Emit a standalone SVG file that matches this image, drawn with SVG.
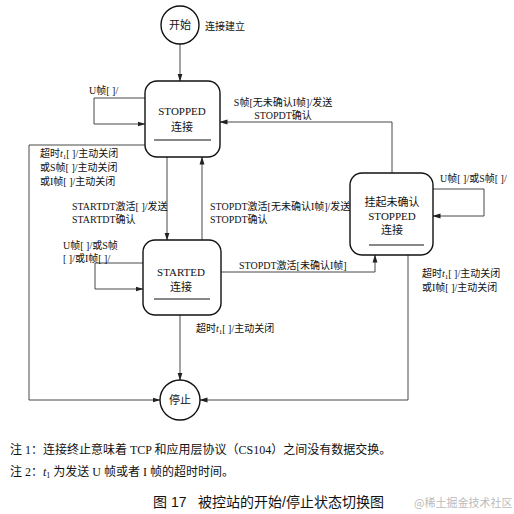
<svg xmlns="http://www.w3.org/2000/svg" width="514" height="514" viewBox="0 0 514 514">
<defs>
<marker id="ah" markerWidth="8" markerHeight="6" refX="7.5" refY="3" orient="auto" markerUnits="userSpaceOnUse">
<path d="M0,0.5 L8,3 L0,5.5 Z" fill="#222"/>
</marker>
<style>
.st{fill:#fff;stroke:#111;stroke-width:1.4}
.ul{stroke:#111;stroke-width:1}
.c{fill:none;stroke:#333;stroke-width:0.9;marker-end:url(#ah)}
text{font-family:"Liberation Serif","Noto Sans CJK SC",serif;fill:#111}
.l{font-size:10px}
.n{font-size:11px}
.m{text-anchor:middle}
.note{font-size:12px}
.title{font-family:"Liberation Sans","Noto Sans CJK SC",sans-serif;font-size:14px}
.wm{font-family:"Noto Sans CJK SC",sans-serif;font-size:11px;fill:#bbb}
</style>
</defs>
<rect width="514" height="514" fill="#fff"/>
<g id="connectors">
<path class="c" d="M180,44 V81"/>
<path class="c" d="M145,98 H94 V124 H145"/>
<path class="c" d="M392,173 V122 H220"/>
<path class="c" d="M145,145 H29 V400 H160"/>
<path class="c" d="M167,157 V240"/>
<path class="c" d="M202,240 V157"/>
<path class="c" d="M143,263 H95 V289 H143"/>
<path class="c" d="M221,272 H375 V255"/>
<path class="c" d="M433,189 H484 V216 H433"/>
<path class="c" d="M408,255 V400 H200"/>
<path class="c" d="M180,315 V380"/>
</g>
<g id="labels">
<text class="l" x="205" y="30">连接建立</text>
<text class="l" x="89" y="94">U帧[ ]/</text>
<text class="l m" x="283" y="106">S帧[无未确认I帧]/发送</text>
<text class="l m" x="283" y="119">STOPDT确认</text>
<text class="l" x="40" y="157">超时<tspan font-style="italic">t</tspan><tspan font-size="7" dy="2">1</tspan><tspan dy="-2">[ ]/主动关闭</tspan></text>
<text class="l" x="40" y="171">或S帧[ ]/主动关闭</text>
<text class="l" x="40" y="185">或I帧[ ]/主动关闭</text>
<text class="l" x="72" y="210">STARTDT激活[ ]/发送</text>
<text class="l" x="72" y="223">STARTDT确认</text>
<text class="l" x="210" y="210">STOPDT激活[无未确认I帧]/发送</text>
<text class="l" x="210" y="223">STOPDT确认</text>
<text class="l" x="63" y="249">U帧[ ]/或S帧</text>
<text class="l" x="63" y="262">[ ]/或I帧[ ]/</text>
<text class="l" x="239" y="269">STOPDT激活[未确认I帧]</text>
<text class="l" x="440" y="182">U帧[ ]/或S帧[ ]/</text>
<text class="l" x="422" y="277">超时<tspan font-style="italic">t</tspan><tspan font-size="7" dy="2">1</tspan><tspan dy="-2">[ ]/主动关闭</tspan></text>
<text class="l" x="422" y="291">或I帧[ ]/主动关闭</text>
<text class="l" x="196" y="332">超时<tspan font-style="italic">t</tspan><tspan font-size="7" dy="2">1</tspan><tspan dy="-2">[ ]/主动关闭</tspan></text>
</g>
<g id="start">
<circle class="st" cx="180" cy="25" r="19"/>
<text class="n m" x="180" y="29">开始</text>
</g>
<g id="stopped">
<rect class="st" x="145" y="81" width="75" height="76" rx="12"/>
<text class="n m" x="182" y="115">STOPPED</text>
<text class="n m" x="182" y="131">连接</text>
<line class="ul" x1="154" y1="140" x2="211" y2="140"/>
</g>
<g id="started">
<rect class="st" x="143" y="240" width="78" height="75" rx="12"/>
<text class="n m" x="181" y="276">STARTED</text>
<text class="n m" x="181" y="291">连接</text>
<line class="ul" x1="154" y1="299" x2="210" y2="299"/>
</g>
<g id="pending">
<rect class="st" x="350" y="173" width="83" height="82" rx="12"/>
<text class="n m" x="392" y="206">挂起未确认</text>
<text class="n m" x="392" y="220">STOPPED</text>
<text class="n m" x="392" y="234">连接</text>
<line class="ul" x1="369" y1="245" x2="424" y2="245"/>
</g>
<g id="stop">
<circle class="st" cx="180" cy="400" r="20"/>
<text class="n m" x="180" y="404">停止</text>
</g>
<g id="notes">
<text class="note" x="10" y="454">注 1：连接终止意味着 TCP 和应用层协议（CS104）之间没有数据交换。</text>
<text class="note" x="10" y="476">注 2：<tspan font-style="italic">t</tspan><tspan font-size="8" dy="2">1</tspan><tspan dy="-2"> 为发送 U 帧或者 I 帧的超时时间。</tspan></text>
<text class="title" x="153" y="507">图 17</text>
<text class="title" x="198" y="507">被控站的开始/停止状态切换图</text>
<text class="wm" x="414" y="507">@稀土掘金技术社区</text>
</g>
</svg>
